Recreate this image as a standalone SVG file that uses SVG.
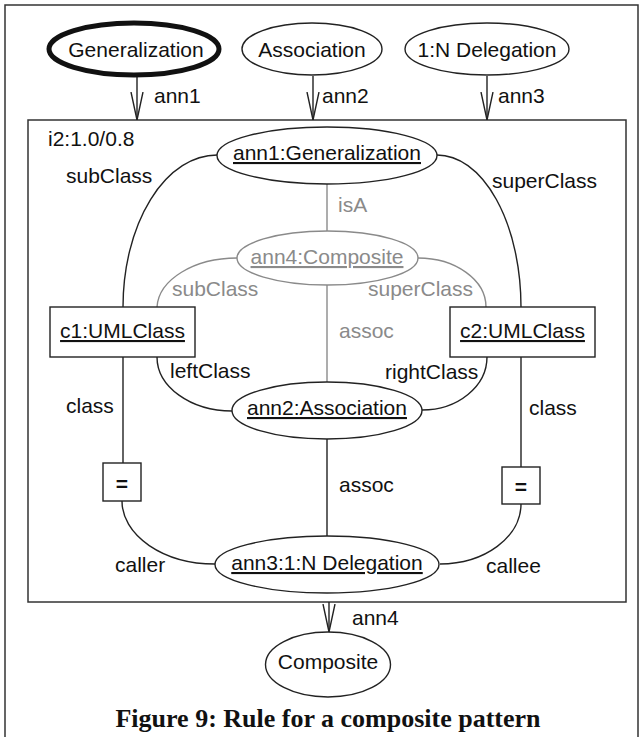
<svg xmlns="http://www.w3.org/2000/svg" width="640" height="737" viewBox="0 0 640 737">
  <style>
    text { font-family: "Liberation Sans", Arial, sans-serif; font-size: 21px; fill: #111; }
    .mid { text-anchor: middle; }
    .u { text-decoration: underline; }
    .gray { fill: #8a8a8a; }
    .node { fill: #fff; stroke: #222; stroke-width: 1.4; }
    .gnode { fill: #fff; stroke: #8a8a8a; stroke-width: 1.4; }
    .edge { fill: none; stroke: #222; stroke-width: 1.4; }
    .gedge { fill: none; stroke: #8a8a8a; stroke-width: 1.4; }
    .frame { fill: none; stroke: #333; stroke-width: 1.5; }
    .caption { font-family: "Liberation Serif", "Times New Roman", serif; font-weight: bold; font-size: 26px; }
  </style>
  <defs>
    <marker id="openV" viewBox="0 0 28 14" refX="28" refY="7" markerWidth="28" markerHeight="14" markerUnits="userSpaceOnUse" orient="auto">
      <path d="M0,1 L28,7 L0,13" fill="none" stroke="#222" stroke-width="1.4"/>
    </marker>
  </defs>

  <rect width="640" height="737" fill="#fff"/>
  <!-- outer frame -->
  <path class="frame" d="M5,737 V5 H638 V737"/>

  <!-- rule frame -->
  <g id="rule">
    <rect class="frame" x="28" y="120" width="598" height="482"/>
    <text x="48" y="146">i2:1.0/0.8</text>
  </g>

  <!-- connectors -->
  <g id="connectors">
    <!-- annotation arrows -->
    <line class="edge" x1="137" y1="76" x2="137" y2="120" marker-end="url(#openV)"/>
    <line class="edge" x1="313" y1="76" x2="313" y2="120" marker-end="url(#openV)"/>
    <line class="edge" x1="487" y1="76" x2="487" y2="120" marker-end="url(#openV)"/>
    <line class="edge" x1="329" y1="602" x2="329" y2="632" marker-end="url(#openV)"/>

    <!-- grey (created) part -->
    <line class="gedge" x1="327" y1="184" x2="327" y2="231"/>
    <line class="gedge" x1="327" y1="285" x2="327" y2="382"/>
    <path class="gedge" d="M237,258 A80,51 0 0 0 157,307"/>
    <path class="gedge" d="M418,258 A68,49 0 0 1 486,307"/>

    <!-- black part -->
    <path class="edge" d="M217,155 A94,152 0 0 0 123,307"/>
    <path class="edge" d="M437,155 A84,152 0 0 1 521,307"/>
    <path class="edge" d="M157,357 A75,54 0 0 0 232,411"/>
    <path class="edge" d="M487,357 A65,53 0 0 1 422,410"/>
    <line class="edge" x1="123" y1="357" x2="123" y2="463"/>
    <line class="edge" x1="521" y1="357" x2="521" y2="467"/>
    <path class="edge" d="M122,501 A93,63 0 0 0 215,564"/>
    <path class="edge" d="M521,504 A81,60 0 0 1 440,564"/>
    <line class="edge" x1="327" y1="439" x2="327" y2="536"/>

    <!-- edge labels -->
    <text x="154" y="103">ann1</text>
    <text x="322" y="103">ann2</text>
    <text x="498" y="103">ann3</text>
    <text x="352" y="625">ann4</text>
    <text x="66" y="183">subClass</text>
    <text x="492" y="188">superClass</text>
    <text class="gray" x="338" y="212">isA</text>
    <text class="gray" x="172" y="296">subClass</text>
    <text class="gray" x="368" y="296">superClass</text>
    <text class="gray" x="339" y="338">assoc</text>
    <text x="170" y="378">leftClass</text>
    <text x="385" y="379">rightClass</text>
    <text x="66" y="413">class</text>
    <text x="529" y="415">class</text>
    <text x="339" y="492">assoc</text>
    <text x="115" y="572">caller</text>
    <text x="486" y="573">callee</text>
  </g>

  <!-- pattern types -->
  <g id="generalization">
    <ellipse cx="134" cy="49" rx="85" ry="26" fill="#fff" stroke="#111" stroke-width="5"/>
    <text class="mid" x="136" y="57">Generalization</text>
  </g>
  <g id="association">
    <ellipse class="node" cx="312" cy="49" rx="70" ry="26"/>
    <text class="mid" x="312" y="57">Association</text>
  </g>
  <g id="delegation">
    <ellipse class="node" cx="487" cy="49" rx="82" ry="26"/>
    <text class="mid" x="487" y="57">1:N Delegation</text>
  </g>
  <g id="composite">
    <ellipse class="node" cx="328" cy="664.5" rx="62.5" ry="32.5"/>
    <text class="mid" x="328" y="669">Composite</text>
  </g>

  <!-- rule nodes -->
  <g id="ann1">
    <ellipse class="node" cx="327" cy="155.5" rx="110" ry="28.5"/>
    <text class="mid u" x="327" y="160">ann1:Generalization</text>
  </g>
  <g id="ann4">
    <ellipse class="gnode" cx="327.5" cy="258" rx="90.5" ry="27"/>
    <text class="mid u gray" x="327" y="264">ann4:Composite</text>
  </g>
  <g id="c1">
    <rect class="node" x="50" y="307" width="145" height="50"/>
    <text class="mid u" x="122.5" y="338">c1:UMLClass</text>
  </g>
  <g id="c2">
    <rect class="node" x="450" y="307" width="145" height="50"/>
    <text class="mid u" x="522.5" y="338">c2:UMLClass</text>
  </g>
  <g id="ann2">
    <ellipse class="node" cx="327" cy="410.5" rx="95" ry="28.5"/>
    <text class="mid u" x="327" y="415">ann2:Association</text>
  </g>
  <g id="eq1">
    <rect class="node" x="103" y="463" width="38" height="38"/>
    <text class="mid" x="122" y="491" font-size="26" font-weight="bold">=</text>
  </g>
  <g id="eq2">
    <rect class="node" x="502" y="467" width="38" height="37"/>
    <text class="mid" x="521" y="494" font-size="26" font-weight="bold">=</text>
  </g>
  <g id="ann3">
    <ellipse class="node" cx="327" cy="564.5" rx="112" ry="28.5"/>
    <text class="mid u" x="327" y="570">ann3:1:N Delegation</text>
  </g>

  <text class="caption" x="328" y="727" text-anchor="middle">Figure 9: Rule for a composite pattern</text>
</svg>
